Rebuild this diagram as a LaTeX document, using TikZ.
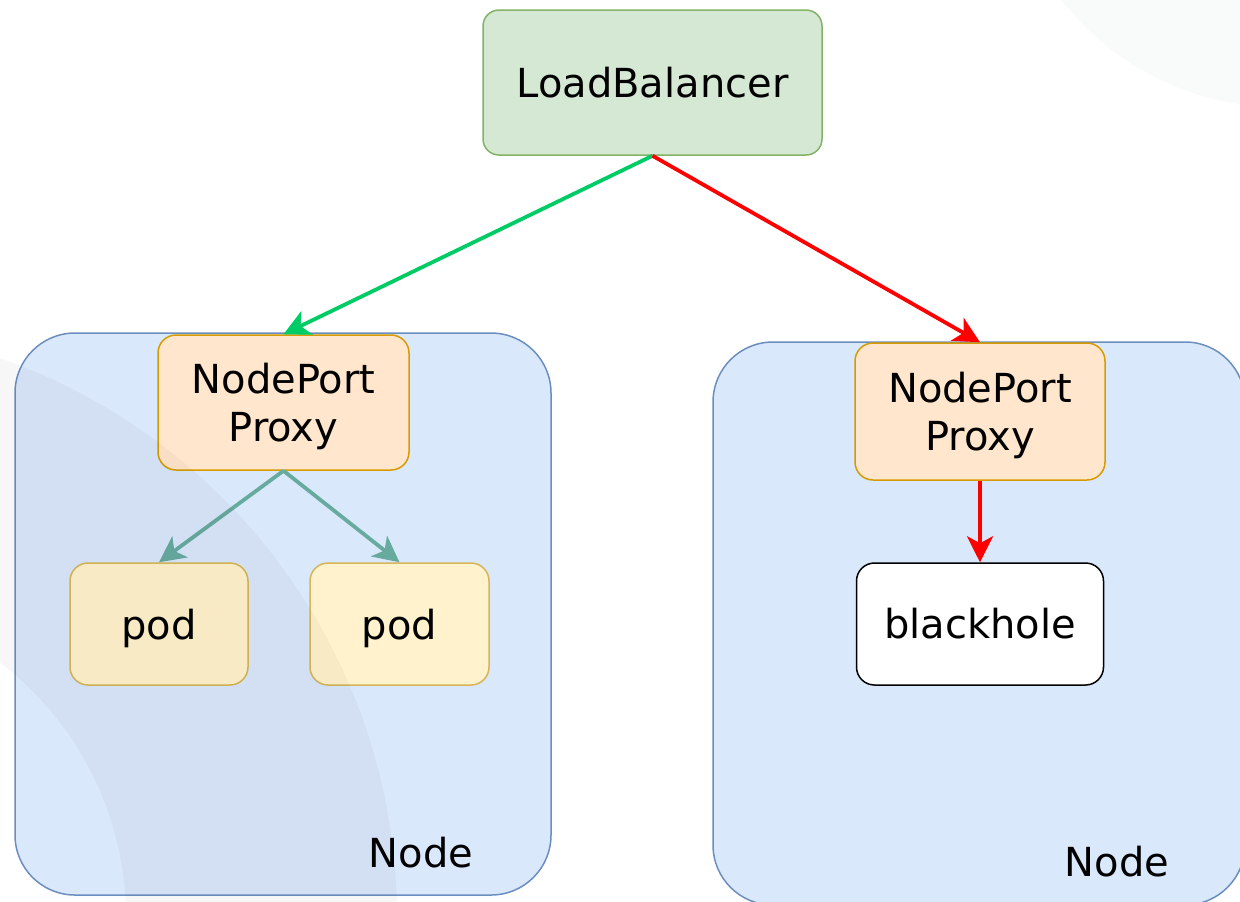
\documentclass[tikz,border=0pt]{standalone}
\usepackage{fontspec}
\setmainfont{DejaVu Sans}
\usetikzlibrary{arrows.meta}
\definecolor{lbfill}{HTML}{D5E8D4}
\definecolor{lbline}{HTML}{82B366}
\definecolor{nfill}{HTML}{DAE8FC}
\definecolor{nline}{HTML}{6C8EBF}
\definecolor{pfill}{HTML}{FFE6CC}
\definecolor{pline}{HTML}{D79B00}
\definecolor{podfill}{HTML}{FFF2CC}
\definecolor{podline}{HTML}{D6B656}
\definecolor{agreen}{HTML}{00CC66}
\definecolor{ared}{HTML}{FF0000}
\definecolor{ateal}{HTML}{67AB9F}
\definecolor{deco}{HTML}{F9FAFA}
\tikzset{
  box/.style={draw, line width=0.75pt, rounded corners=9pt, inner sep=0pt, align=center,
    font=\fontsize{20}{24}\selectfont},
  container/.style={draw=nline, fill=nfill, line width=0.75pt, rounded corners=30pt, inner sep=0pt},
  lbbox/.style={box, draw=lbline, fill=lbfill, rounded corners=8pt},
  proxybox/.style={box, draw=pline, fill=pfill, text depth=0pt},
  podbox/.style={box, draw=podline, fill=podfill, text depth=0pt},
  holebox/.style={box, draw=black, fill=white},
  lbl/.style={font=\fontsize{20}{24}\selectfont, inner sep=0pt},
  conn/.style={line width=1.9pt, -{Stealth[length=13pt,width=13pt,inset=3.5pt]}},
}
\begin{document}
\begin{tikzpicture}[x=0.5pt,y=-0.5pt]
\useasboundingbox (0,0) rectangle (1240,901);
% background decoration top-right
\fill[deco] (1280,-170) circle[radius=277];
% containers
\node[container, minimum width=268pt, minimum height=281pt] (leftnode) at (283,614) {};
\node[container, minimum width=266pt, minimum height=281.5pt] (rightnode) at (979,623.5) {};
% boxes
\node[lbbox, minimum width=169.5pt, minimum height=72.5pt] (lb) at (652.5,82.5) {LoadBalancer};
\node[proxybox, minimum width=125.5pt, minimum height=67.5pt] (lp) at (283.5,402.5) {NodePort\\Proxy};
\node[proxybox, minimum width=125pt, minimum height=68.5pt] (rp) at (980,411.5) {NodePort\\Proxy};
\node[podbox, minimum width=89pt, minimum height=61pt] (pod1) at (159,624) {pod};
\node[podbox, minimum width=89.5pt, minimum height=61pt] (pod2) at (399.5,624) {pod};
\node[holebox, minimum width=123.5pt, minimum height=61pt] (bh) at (980,624) {blackhole};
% container labels
\node[lbl] (leftlabel) at (421,853) {Node};
\node[lbl] (rightlabel) at (1117,862) {Node};
% connectors
\draw[conn, agreen] (lb.south) -- (lp.north);
\draw[conn, ared] (lb.south) -- (rp.north);
\draw[conn, ateal] (lp.south) -- (pod1.north);
\draw[conn, ateal] (lp.south) -- (pod2.north);
\draw[conn, ared] (rp.south) -- (bh.north);
% faint background ring on the left
\fill[black, fill opacity=0.03, even odd rule] (-196,918) circle[radius=593] (-196,918) circle[radius=322];
\end{tikzpicture}
\end{document}
